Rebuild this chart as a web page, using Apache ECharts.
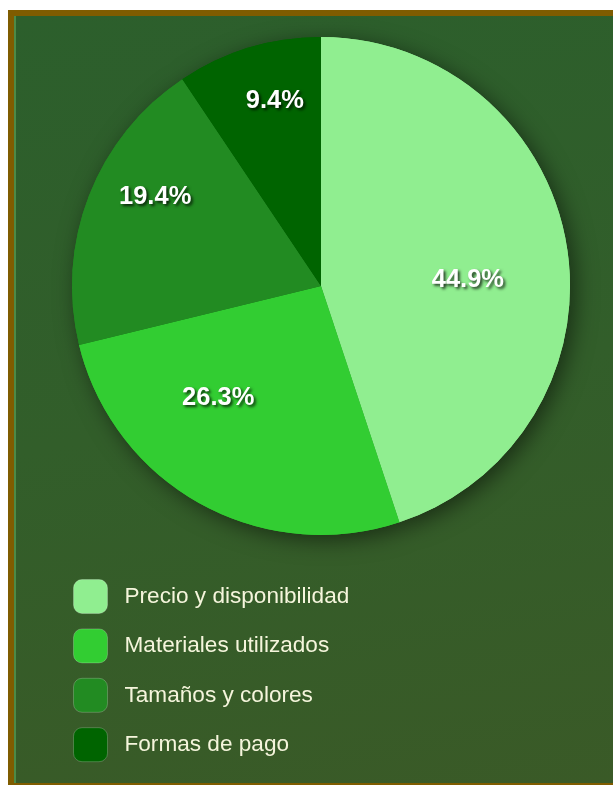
<!DOCTYPE html>
<html>
<head>
<meta charset="utf-8">
<script src="https://cdn.jsdelivr.net/npm/echarts@6/dist/echarts.min.js"></script>
<style>
  html, body { margin: 0; padding: 0; background: #ffffff; overflow: hidden; }
  #frame {
    position: absolute;
    left: 8px;
    top: 10px;
    width: 610px;
    height: 767px;
    border: 6px solid #7f5c00;
    background: linear-gradient(170deg, #2c5f2c 0%, #325e2a 50%, #3a5a27 100%);
    box-shadow: inset 2px 0 0 #4c8a47;
  }
  #chart { position: absolute; left: 0; top: 0; width: 610px; height: 767px; }
</style>
</head>
<body>
<div id="frame"><div id="chart"></div></div>
<script>
// Survey factors and their share of responses (percent)
const categories = ['Precio y disponibilidad', 'Materiales utilizados', 'Tamaños y colores', 'Formas de pago'];
const shares = [44.9, 26.3, 19.4, 9.4];
const sliceColors = ['#90ee90', '#32cd32', '#228b22', '#006400'];

// Nudges for the percentage labels, relative to the mid-radius point of each slice
const labelNudge = [[21, 14], [-41, 0], [-47, -43], [-9, -63]];

const chart = echarts.init(document.getElementById('chart'), null, { renderer: 'canvas' });

const fontFamily = '"Liberation Sans", Arial, Helvetica, sans-serif';
const pieCenter = [307, 270];
const pieRadius = [0, 249];
const pieData = categories.map(function (name, i) {
  return { name: name, value: shares[i] };
});

chart.setOption({
  animation: false,
  color: sliceColors,
  legend: {
    orient: 'vertical',
    left: 54,
    top: 558,
    icon: 'roundRect',
    itemWidth: 34,
    itemHeight: 34,
    itemGap: 14.4,
    itemStyle: { borderColor: 'rgba(255,255,255,0.22)', borderWidth: 1 },
    textStyle: {
      color: '#f5f5dc',
      fontSize: 22.6,
      fontFamily: fontFamily,
      padding: [0, 0, 0, 12]
    },
    data: categories
  },
  series: [
    {
      // shadow layer underneath the visible pie
      type: 'pie',
      silent: true,
      center: pieCenter,
      radius: pieRadius,
      startAngle: 90,
      z: 1,
      legendHoverLink: false,
      itemStyle: {
        shadowBlur: 22,
        shadowColor: 'rgba(0,0,0,0.5)',
        shadowOffsetX: 5,
        shadowOffsetY: 5
      },
      label: { show: false },
      labelLine: { show: false },
      emphasis: { disabled: true },
      data: pieData
    },
    {
      type: 'pie',
      center: pieCenter,
      radius: pieRadius,
      startAngle: 90,
      clockwise: true,
      z: 2,
      avoidLabelOverlap: false,
      label: {
        show: true,
        position: 'inside',
        formatter: function (p) { return p.value.toFixed(1) + '%'; },
        color: '#ffffff',
        fontSize: 25.5,
        fontWeight: 'bold',
        fontFamily: fontFamily,
        textShadowColor: 'rgba(0,0,0,0.75)',
        textShadowBlur: 3,
        textShadowOffsetX: 2,
        textShadowOffsetY: 2
      },
      labelLine: { show: false },
      labelLayout: function (p) {
        const n = labelNudge[p.dataIndex];
        return { dx: n[0], dy: n[1] };
      },
      emphasis: { disabled: true },
      data: pieData
    }
  ]
});
</script>
</body>
</html>
